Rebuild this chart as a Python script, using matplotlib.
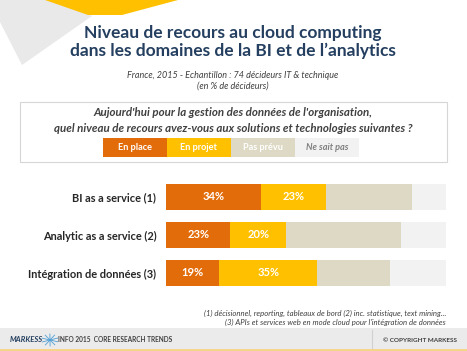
import numpy as np
import matplotlib.pyplot as plt
from matplotlib.patches import Rectangle, Polygon

plt.rcParams['font.family'] = ['Lato', 'DejaVu Sans']

# data
categories = ['BI as a service (1)', 'Analytic as a service (2)', 'Intégration de données (3)']
series_names = ['En place', 'En projet', 'Pas prévu', 'Ne sait pas']
en_place = [34, 23, 19]
en_projet = [23, 20, 35]
pas_prevu = [31, 41, 26]
ne_sait_pas = [12, 16, 20]
colors = ['#E36C0A', '#FFC000', '#DDD9C4', '#F2F2F2']

W, H = 467, 351
fig = plt.figure(figsize=(W / 100, H / 100), dpi=100, facecolor='white')

# background axes in pixel coordinates
bg = fig.add_axes([0, 0, 1, 1])
bg.set_xlim(0, W)
bg.set_ylim(H, 0)
bg.axis('off')

# header decorations
bg.add_patch(Polygon([(0, 0), (60, 0), (92, 16), (22, 65), (0, 22)],
                     closed=True, color='#E9E9E9', lw=0))
bg.add_patch(Polygon([(45, 0), (178, 0), (122, 15), (88, 15)],
                     closed=True, color='#FFC000', lw=0))

title_col = '#243F60'
bg.text(233, 33, 'Niveau de recours au cloud computing', ha='center', va='center',
        fontsize=12.5, fontweight='bold', color=title_col)
bg.text(233, 51, "dans les domaines de la BI et de l\u2019analytics", ha='center', va='center',
        fontsize=12.5, fontweight='bold', color=title_col)
bg.text(233, 75, 'France, 2015 - Echantillon : 74 décideurs IT & technique', ha='center',
        va='center', fontsize=6.5, style='italic', color='#404040')
bg.text(233, 86, '(en % de décideurs)', ha='center', va='center',
        fontsize=6.5, style='italic', color='#404040')

# question box
bg.add_patch(Rectangle((20, 102), 427, 60, facecolor='white', edgecolor='#D6D6D6', lw=0.8))
bg.text(233, 112, "Aujourd'hui pour la gestion des données de l'organisation,", ha='center',
        va='center', fontsize=8.3, style='italic', fontweight='bold', color='#404040')
bg.text(233, 128, 'quel niveau de recours avez-vous aux solutions et technologies suivantes ?',
        ha='center', va='center', fontsize=8.3, style='italic', fontweight='bold', color='#404040')

# legend cells
leg_x = 103
leg_w = 64
for i, (name, c) in enumerate(zip(series_names, colors)):
    xl = leg_x + i * leg_w
    bg.add_patch(Rectangle((xl, 138), leg_w, 19, facecolor=c, lw=0))
    if i == 3:
        bg.text(xl + leg_w / 2, 147.5, name, ha='center', va='center', fontsize=6.6,
                style='italic', fontweight='bold', color='#808080')
    else:
        bg.text(xl + leg_w / 2, 147.5, name, ha='center', va='center', fontsize=6.6,
                fontweight='bold', color='white')

# footnotes
bg.text(446, 313, '(1) décisionnel, reporting, tableaux de bord (2) inc. statistique, text mining...',
        ha='right', va='center', fontsize=5.6, style='italic', color='#404040')
bg.text(446, 322, "(3) APIs et services web en mode cloud pour l'intégration de données",
        ha='right', va='center', fontsize=5.6, style='italic', color='#404040')

# footer band
bg.add_patch(Rectangle((0, 328), W, 21, facecolor='#EBEBEB', lw=0))
bg.add_patch(Rectangle((0, 349), W, 2, facecolor='#F6D58A', lw=0))
bg.plot([372, 372], [330, 348], color='#D0D0D0', lw=0.8)
bg.text(10, 339, 'MARKESS', ha='left', va='center', fontsize=5.5, style='italic',
        fontweight='bold', color='#243F60')
for ang in np.linspace(0, np.pi, 5, endpoint=False):
    dx, dy = 8 * np.cos(ang + 0.3), 6 * np.sin(ang + 0.3)
    bg.plot([50 - dx, 50 + dx], [340 - dy, 340 + dy], color='#4F9FD6', lw=0.6)
bg.text(58, 340, 'INFO 2015  CORE RESEARCH TRENDS', ha='left', va='center', fontsize=4.7,
        fontweight='bold', color='#404040')
bg.text(420, 340, '© COPYRIGHT MARKESS', ha='center', va='center', fontsize=4.6,
        fontweight='bold', color='#404040')

# bar chart axes
x0, x1 = 166, 446
ytop, ybot = 178, 292
ax = fig.add_axes([x0 / W, 1 - ybot / H, (x1 - x0) / W, (ybot - ytop) / H])
ax.patch.set_alpha(0)
y = np.arange(len(categories))
left = np.zeros(len(categories))
for vals, c in zip([en_place, en_projet, pas_prevu, ne_sait_pas], colors):
    vals = np.array(vals)
    ax.barh(y, vals, left=left, height=0.66, color=c, lw=0)
    if c in colors[:2]:
        for yi, l, v in zip(y, left, vals):
            ax.text(l + v / 2, yi, f'{v}%', ha='center', va='center', fontsize=8,
                    fontweight='bold', color='white')
    left += vals
ax.set_xlim(0, 100)
ax.set_ylim(2.5, -0.5)
ax.set_yticks(y)
ax.set_yticklabels(categories, fontsize=7.9, fontweight='bold', color='#262626')
ax.tick_params(axis='y', length=0, pad=7)
ax.set_xticks([])
for s in ax.spines.values():
    s.set_visible(False)

fig.savefig('out.png', dpi=100, facecolor='white')
